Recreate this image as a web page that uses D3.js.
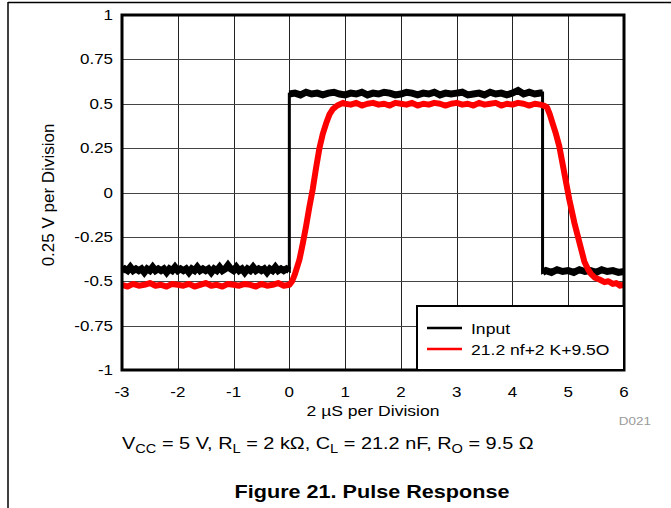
<!DOCTYPE html>
<html><head><meta charset="utf-8">
<script src="https://cdn.jsdelivr.net/npm/d3@7"></script>
<style>
html,body{margin:0;padding:0;background:#fff;}
text{font-family:"Liberation Sans",Arial,sans-serif;}
</style></head>
<body>
<svg id="chart" width="671" height="508"></svg>
<script>
// ---- data ----
const xTicks = [-3,-2,-1,0,1,2,3,4,5,6];
const yTicks = [1,0.75,0.5,0.25,0,-0.25,-0.5,-0.75,-1];
const yTickLabels = ["1","0.75","0.5","0.25","0","-0.25","-0.5","-0.75","-1"];
const seriesNames = ["Input","21.2 nf+2 K+9.5O"];
const seriesColors = ["#000000","#ff0000"];

const inputT = [-3.0,-2.95,-2.9,-2.85,-2.8,-2.75,-2.7,-2.65,-2.6,-2.55,-2.5,-2.45,-2.4,-2.35,-2.3,-2.25,-2.2,-2.15,-2.1,-2.05,-2.0,-1.95,-1.9,-1.85,-1.8,-1.75,-1.7,-1.65,-1.6,-1.55,-1.5,-1.45,-1.4,-1.35,-1.3,-1.25,-1.2,-1.15,-1.1,-1.05,-1.0,-0.95,-0.9,-0.85,-0.8,-0.75,-0.7,-0.65,-0.6,-0.55,-0.5,-0.45,-0.4,-0.35,-0.3,-0.25,-0.2,-0.15,-0.1,-0.05,0.0,
 0.0,0.1,0.2,0.3,0.4,0.5,0.6,0.7,0.8,0.9,1.0,1.1,1.2,1.3,1.4,1.5,1.6,1.7,1.8,1.9,2.0,2.1,2.2,2.3,2.4,2.5,2.6,2.7,2.8,2.9,3.0,3.1,3.2,3.3,3.4,3.5,3.6,3.7,3.8,3.9,4.0,4.1,4.2,4.3,4.4,4.5,4.54,
 4.54,4.6,4.7,4.8,4.9,5.0,5.1,5.2,5.3,5.4,5.5,5.6,5.7,5.8,5.9,6.0];
const inputV = [-0.44,-0.43,-0.44,-0.42,-0.44,-0.43,-0.44,-0.43,-0.45,-0.43,-0.44,-0.42,-0.44,-0.43,-0.44,-0.43,-0.45,-0.43,-0.44,-0.42,-0.44,-0.43,-0.44,-0.43,-0.45,-0.43,-0.44,-0.42,-0.44,-0.43,-0.44,-0.43,-0.45,-0.43,-0.44,-0.42,-0.44,-0.43,-0.41,-0.43,-0.44,-0.42,-0.44,-0.43,-0.45,-0.43,-0.44,-0.42,-0.44,-0.43,-0.44,-0.43,-0.45,-0.43,-0.44,-0.42,-0.44,-0.43,-0.44,-0.43,-0.44,
 0.555,0.56,0.55,0.565,0.555,0.56,0.55,0.56,0.565,0.555,0.55,0.56,0.555,0.565,0.55,0.56,0.555,0.565,0.56,0.55,0.555,0.565,0.56,0.55,0.56,0.555,0.565,0.55,0.56,0.555,0.56,0.565,0.55,0.555,0.56,0.55,0.565,0.555,0.56,0.55,0.56,0.575,0.555,0.565,0.555,0.56,0.56,
 -0.45,-0.44,-0.45,-0.435,-0.445,-0.44,-0.45,-0.435,-0.445,-0.44,-0.45,-0.435,-0.445,-0.44,-0.45,-0.445];

const outputT = [-3.0,-2.9,-2.8,-2.7,-2.6,-2.5,-2.4,-2.3,-2.2,-2.1,-2.0,-1.9,-1.8,-1.7,-1.6,-1.5,-1.4,-1.3,-1.2,-1.1,-1.0,-0.9,-0.8,-0.7,-0.6,-0.5,-0.4,-0.3,-0.2,-0.1,0.0,
 0.05,0.1,0.18,0.24,0.30,0.36,0.42,0.48,0.54,0.60,0.66,0.72,0.78,0.86,0.96,
 1.0,1.1,1.2,1.3,1.4,1.5,1.6,1.7,1.8,1.9,2.0,2.1,2.2,2.3,2.4,2.5,2.6,2.7,2.8,2.9,3.0,3.1,3.2,3.3,3.4,3.5,3.6,3.7,3.8,3.9,4.0,4.1,4.2,4.3,4.4,4.5,
 4.56,4.62,4.67,4.72,4.78,4.84,4.93,5.02,5.11,5.20,5.29,5.35,5.41,5.48,5.56,5.65,5.72,5.80,5.86,5.93,6.0];
const outputV = [-0.52,-0.53,-0.515,-0.525,-0.52,-0.51,-0.525,-0.52,-0.53,-0.515,-0.52,-0.525,-0.515,-0.53,-0.52,-0.51,-0.525,-0.52,-0.53,-0.515,-0.52,-0.525,-0.515,-0.52,-0.53,-0.515,-0.525,-0.52,-0.51,-0.525,-0.52,
 -0.50,-0.46,-0.38,-0.29,-0.19,-0.08,0.02,0.14,0.25,0.33,0.39,0.44,0.47,0.49,0.505,
 0.50,0.495,0.505,0.49,0.50,0.505,0.495,0.50,0.49,0.505,0.50,0.495,0.505,0.49,0.50,0.495,0.505,0.50,0.49,0.50,0.505,0.495,0.50,0.49,0.505,0.495,0.50,0.505,0.49,0.50,0.495,0.505,0.50,0.49,0.50,0.495,
 0.49,0.48,0.44,0.39,0.33,0.26,0.11,-0.04,-0.17,-0.28,-0.39,-0.43,-0.46,-0.48,-0.49,-0.505,-0.50,-0.515,-0.51,-0.525,-0.52];

// ---- chart ----
const svg = d3.select("#chart");
const L = 122, R = 624, T = 15, B = 370;
const SX = 1.17; // horizontal glyph stretch of the original rendering
const x = d3.scaleLinear().domain([-3,6]).range([L,R]);
const y = d3.scaleLinear().domain([-1,1]).range([B,T]);

function label(parent, px, py, str, size, anchor, opts){
  opts = opts || {};
  const gg = parent.append("g").attr("transform",`translate(${px},${py}) scale(${opts.sx||SX},1)`);
  const t = gg.append("text").attr("x",0).attr("y",0).attr("text-anchor",anchor)
    .attr("font-size",size).attr("fill",opts.fill||"#000").text(str);
  if(opts.bold) t.attr("font-weight","bold");
  return t;
}

// outer frame
svg.append("line").attr("x1",8).attr("x2",671).attr("y1",2.5).attr("y2",2.5).attr("stroke","#000").attr("stroke-width",1.5);
svg.append("line").attr("x1",8).attr("x2",8).attr("y1",2).attr("y2",508).attr("stroke","#000").attr("stroke-width",1.5);

// grid
const g = svg.append("g");
g.selectAll(".vg").data(xTicks).join("line")
  .attr("x1",d=>Math.round(x(d))+0.5).attr("x2",d=>Math.round(x(d))+0.5)
  .attr("y1",T).attr("y2",B).attr("stroke","#222").attr("stroke-width",1);
g.selectAll(".hg").data(yTicks).join("line")
  .attr("y1",d=>Math.round(y(d))+0.5).attr("y2",d=>Math.round(y(d))+0.5)
  .attr("x1",L).attr("x2",R).attr("stroke","#444").attr("stroke-width",1);

// clip
svg.append("clipPath").attr("id","clip").append("rect").attr("x",L).attr("y",T).attr("width",R-L).attr("height",B-T);

const line = d3.line().x(d=>x(d[0])).y(d=>y(d[1]));
const inputData = inputT.map((t,i)=>[t,inputV[i]]);
const outputData = outputT.map((t,i)=>[t,outputV[i]]);
// split the input trace into its flat levels (at the vertical steps)
const inputLevels = [[]];
inputData.forEach((d,i)=>{
  if(i>0 && d[0]===inputData[i-1][0]) inputLevels.push([]);
  inputLevels[inputLevels.length-1].push(d);
});
const plot = svg.append("g").attr("clip-path","url(#clip)");
plot.append("path").datum(inputData).attr("d",line).attr("fill","none")
  .attr("stroke",seriesColors[0]).attr("stroke-width",3).attr("stroke-linejoin","miter");
plot.selectAll(".lvl").data(inputLevels).join("path").attr("d",line).attr("fill","none")
  .attr("stroke",seriesColors[0]).attr("stroke-width",7).attr("stroke-linecap","butt");
plot.append("path").datum(outputData).attr("d",line).attr("fill","none")
  .attr("stroke",seriesColors[1]).attr("stroke-width",6).attr("stroke-linejoin","round");

// plot border
svg.append("rect").attr("x",L).attr("y",T).attr("width",R-L).attr("height",B-T)
  .attr("fill","none").attr("stroke","#000").attr("stroke-width",3);

// tick labels
yTicks.forEach((d,i)=>label(svg,113,y(d)+5,yTickLabels[i],14.5,"end"));
xTicks.forEach(d=>label(svg,x(d),397,String(d),14.5,"middle"));

// axis titles
label(svg,(L+R)/2,416,"2 \u00B5S per Division",15,"middle");
svg.append("text").attr("transform","translate(54,195) rotate(-90)").attr("text-anchor","middle")
  .attr("font-size",17).text("0.25 V per Division");
label(svg,651,425,"D021",11.5,"end",{fill:"#9a9a9a"});

// legend
const lg = svg.append("g");
lg.append("rect").attr("x",417).attr("y",306).attr("width",R-417).attr("height",B-306)
  .attr("fill","#fff").attr("stroke","#000").attr("stroke-width",2);
seriesNames.forEach((n,i)=>{
  const yy = 328 + i*21;
  lg.append("line").attr("x1",427).attr("x2",462).attr("y1",yy).attr("y2",yy)
    .attr("stroke",seriesColors[i]).attr("stroke-width",2.5);
  label(lg,471,yy+5.5,n,15,"start");
});

// caption
const capG = svg.append("g").attr("transform",`translate(122,449) scale(${SX},1)`);
const cap = capG.append("text").attr("x",0).attr("y",0).attr("font-size",17);
const parts = [["V",""],["CC","sub"],[" = 5 V, R",""],["L","sub"],[" = 2 k\u03A9, C",""],["L","sub"],[" = 21.2 nF, R",""],["O","sub"],[" = 9.5 \u03A9",""]];
parts.forEach((p,i)=>{
  const ts = cap.append("tspan").text(p[0]);
  if(p[1]==="sub"){ ts.attr("font-size",12.5).attr("dy",4); }
  else { ts.attr("dy", i>0 ? -4 : 0); }
});
label(svg,372,498,"Figure 21. Pulse Response",18,"middle",{bold:true,sx:1.2});
</script>
</body></html>
